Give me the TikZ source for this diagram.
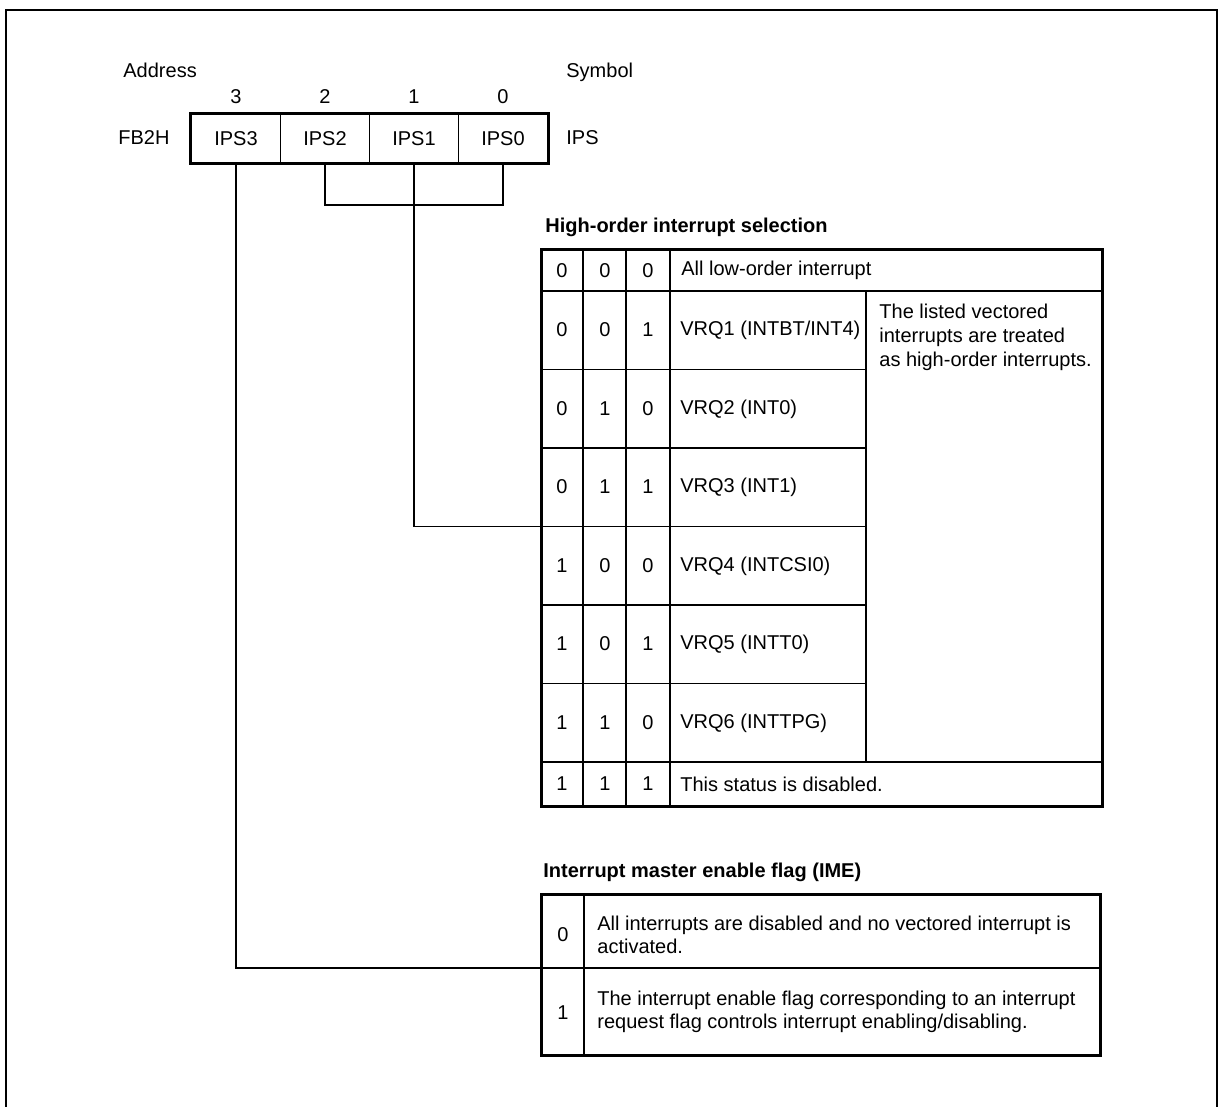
\documentclass[tikz,border=0pt]{standalone}
\usepackage{fontspec}
\setmainfont{Liberation Sans}
\begin{document}
\begin{tikzpicture}[x=0.5pt, y=-0.5pt,
    txt/.style={font=\fontsize{10}{12}\selectfont, inner sep=0pt},
    ttl/.style={font=\fontsize{10}{12}\selectfont\bfseries, inner sep=0pt},
    cell/.style={draw, line width=0.9pt, minimum width=44.5pt, minimum height=24.5pt,
        inner sep=0pt, font=\fontsize{10}{12}\selectfont},
    outline/.style={line width=1.5pt},
    rule/.style={line width=0.9pt},
    conn/.style={line width=0.7pt}]
    \useasboundingbox (0,0) rectangle (1221,1107);
    % outer frame (open at the bottom)
    \draw[line width=1pt] (6,1107) -- (6,10) -- (1217,10) -- (1217,1107);
    % register
    \node[txt, anchor=west] (addr) at (123,70) {Address};
    \node[txt, anchor=west] (sym) at (566,72) {Symbol};
    \node[txt] (bit3) at (236,97) {3};
    \node[txt] (bit2) at (325,97) {2};
    \node[txt] (bit1) at (414,97) {1};
    \node[txt] (bit0) at (503,97) {0};
    \node[txt, anchor=west] (fb2h) at (118,138) {FB2H};
    \node[cell] (ips3) at (236,138.5) {IPS3};
    \node[cell] (ips2) at (325,138.5) {IPS2};
    \node[cell] (ips1) at (414,138.5) {IPS1};
    \node[cell] (ips0) at (503,138.5) {IPS0};
    \draw[outline] (ips3.north west) rectangle (ips0.south east);
    \node[txt, anchor=west] (ips) at (566,138) {IPS};
    % high-order interrupt selection table
    \node[ttl, anchor=west] (hsel) at (545,227) {High-order interrupt selection};
    \draw[outline] (541,250) rectangle (1102,806);
    \draw[rule] (541,291) -- (1102,291) (541,762) -- (1102,762);
    \draw[rule] (541,369.5) -- (866,369.5) (541,448) -- (866,448) (541,526.5) -- (866,526.5)
        (541,605) -- (866,605) (541,683.5) -- (866,683.5);
    \draw[rule] (583,250) -- (583,806) (626,250) -- (626,806) (670,250) -- (670,806)
        (866,291) -- (866,762);
    \node[txt] (s0a) at (562,270.5) {0}; \node[txt] (s0b) at (605,270.5) {0}; \node[txt] (s0c) at (648,270.5) {0};
    \node[txt, anchor=west] (s0) at (681,270.5) {All low-order interrupt};
    \node[txt] (s1a) at (562,330) {0}; \node[txt] (s1b) at (605,330) {0}; \node[txt] (s1c) at (648,330) {1};
    \node[txt, anchor=west] (s1) at (680,330) {VRQ1 (INTBT/INT4)};
    \node[txt] (s2a) at (562,409) {0}; \node[txt] (s2b) at (605,409) {1}; \node[txt] (s2c) at (648,409) {0};
    \node[txt, anchor=west] (s2) at (680,409) {VRQ2 (INT0)};
    \node[txt] (s3a) at (562,487) {0}; \node[txt] (s3b) at (605,487) {1}; \node[txt] (s3c) at (648,487) {1};
    \node[txt, anchor=west] (s3) at (680,487) {VRQ3 (INT1)};
    \node[txt] (s4a) at (562,566) {1}; \node[txt] (s4b) at (605,566) {0}; \node[txt] (s4c) at (648,566) {0};
    \node[txt, anchor=west] (s4) at (680,566) {VRQ4 (INTCSI0)};
    \node[txt] (s5a) at (562,644) {1}; \node[txt] (s5b) at (605,644) {0}; \node[txt] (s5c) at (648,644) {1};
    \node[txt, anchor=west] (s5) at (680,644) {VRQ5 (INTT0)};
    \node[txt] (s6a) at (562,723) {1}; \node[txt] (s6b) at (605,723) {1}; \node[txt] (s6c) at (648,723) {0};
    \node[txt, anchor=west] (s6) at (680,723) {VRQ6 (INTTPG)};
    \node[txt] (s7a) at (562,784) {1}; \node[txt] (s7b) at (605,784) {1}; \node[txt] (s7c) at (648,784) {1};
    \node[txt, anchor=west] (s7) at (680,784) {This status is disabled.};
    \node[txt, anchor=west, align=left] (note) at (879,337)
        {The listed vectored\\interrupts are treated\\as high-order interrupts.};
    % interrupt master enable flag table
    \node[ttl, anchor=west] (imettl) at (543,872) {Interrupt master enable flag (IME)};
    \draw[outline] (541,894) rectangle (1100,1055);
    \draw[rule] (541,968) -- (1100,968) (584,894) -- (584,1055);
    \node[txt] (ime0) at (563,935) {0};
    \node[txt, anchor=west, align=left, font=\fontsize{10}{11.5}\selectfont] (ime0t) at (597,935)
        {All interrupts are disabled and no vectored interrupt is\\activated.};
    \node[txt] (ime1) at (563,1013) {1};
    \node[txt, anchor=west, align=left, font=\fontsize{10}{11.5}\selectfont] (ime1t) at (597,1012)
        {The interrupt enable flag corresponding to an interrupt\\request flag controls interrupt enabling/disabling.};
    % connections from the register bits
    \coordinate (brk) at (414,205);
    \coordinate (sel34) at (541,526.5);
    \coordinate (ime01) at (541,968);
    \draw[conn] (ips2.south) |- (brk) -| (ips0.south);
    \draw[conn] (ips1.south) |- (sel34);
    \draw[conn] (ips3.south) |- (ime01);
\end{tikzpicture}
\end{document}
